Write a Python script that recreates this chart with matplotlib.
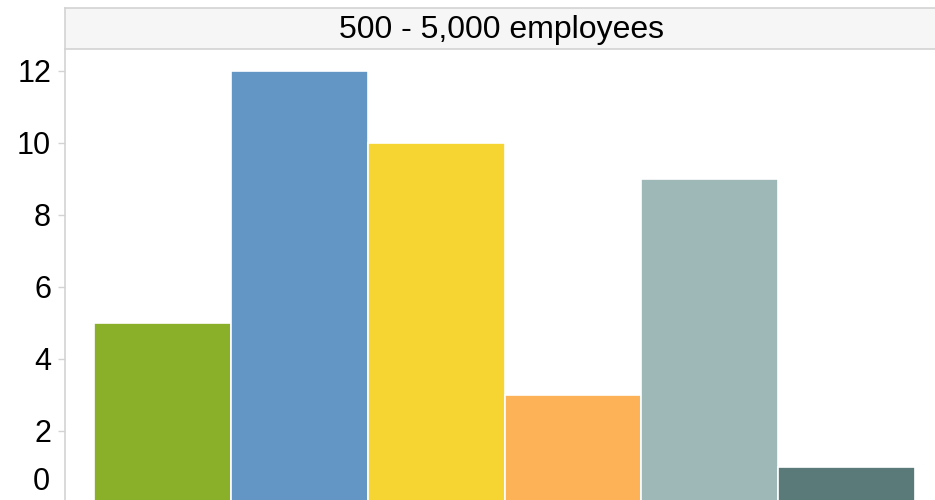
import matplotlib.pyplot as plt
from matplotlib.transforms import blended_transform_factory

# counts per category for this company-size band
values = [5, 12, 10, 3, 9, 1]
colors = ["#8AAF28", "#6396C5", "#F6D532", "#FDB257", "#9EB7B7", "#5A7A79"]
yticks = [2, 4, 6, 8, 10, 12]
title = "500 - 5,000 employees"

plt.rcParams["font.family"] = ["Liberation Sans", "DejaVu Sans"]
grid_color = "#d3d3d3"

W, H = 935, 500
fig = plt.figure(figsize=(W / 100, H / 100), dpi=100)

left, right = 65, 935
head_top, head_bot = 8, 49

ax = fig.add_axes([left / W, 0, (right - left) / W, (H - head_bot) / H])
hdr = fig.add_axes([left / W, (H - head_bot) / H, (right - left) / W, (head_bot - head_top) / H])

x = range(len(values))
ax.bar(x, values, width=1.0, color=colors, edgecolor="white", linewidth=1.2)

# 36 px per unit, zero sits just below the bottom edge
ax.set_ylim((503 - 500) / 36, (503 - head_bot) / 36)
ax.set_xlim(-0.5 - 29 / 136.8, 5.5 + 20 / 136.8)

ax.set_yticks(yticks)
ax.set_yticklabels([str(v) for v in yticks])
ax.tick_params(axis="y", length=5, width=1, color=grid_color, labelsize=22, pad=5)
ax.set_xticks([])
for s in ["top", "right", "bottom"]:
    ax.spines[s].set_visible(False)
ax.spines["left"].set_color(grid_color)
ax.spines["left"].set_linewidth(1.2)

# zero label pushed up to stay inside the frame
tr = blended_transform_factory(fig.transFigure, ax.transAxes)
ax.text(50 / W, (500 - 482) / (H - head_bot), "0", transform=tr,
        ha="right", va="center", fontsize=22)

# header band
hdr.set_facecolor("#f6f6f6")
hdr.set_xticks([])
hdr.set_yticks([])
hdr.spines["right"].set_visible(False)
for s in ["top", "bottom", "left"]:
    hdr.spines[s].set_color(grid_color)
    hdr.spines[s].set_linewidth(1.2)
hdr.text(0.502, 0.46, title, ha="center", va="center", fontsize=23, transform=hdr.transAxes)

fig.savefig("out.png", dpi=100)
